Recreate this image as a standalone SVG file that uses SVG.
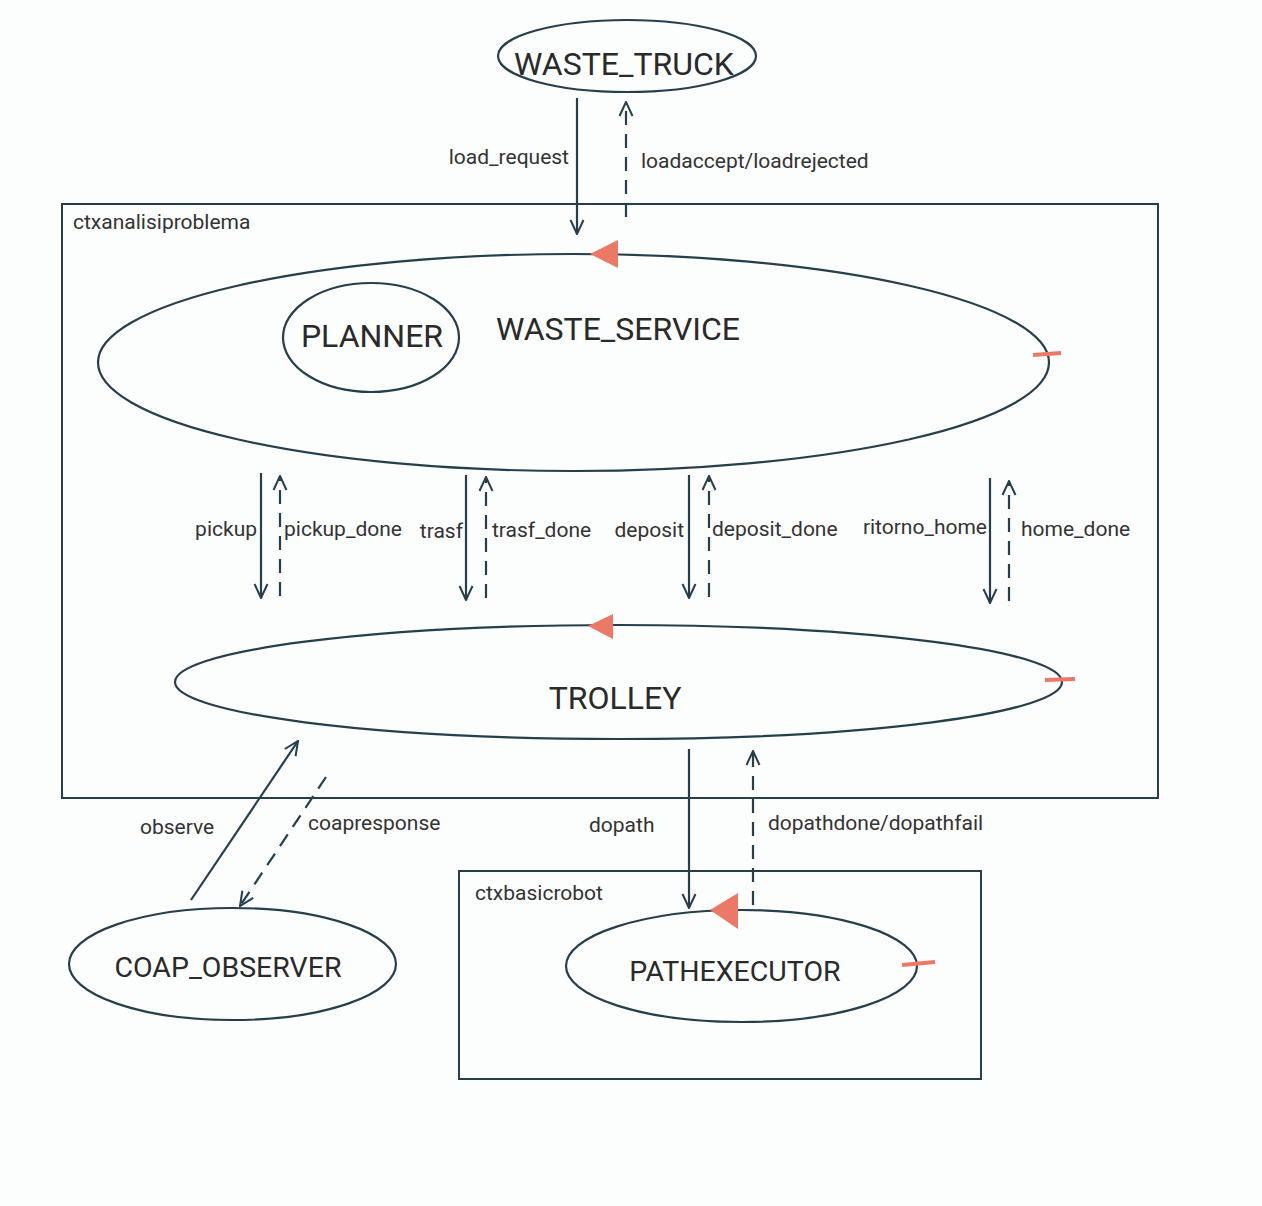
<svg xmlns="http://www.w3.org/2000/svg" width="1262" height="1206" viewBox="0 0 1262 1206">
<defs>
<marker id="open" viewBox="0 0 16 16" refX="15" refY="8" markerWidth="16" markerHeight="16" markerUnits="userSpaceOnUse" orient="auto">
<path d="M1,1.5 L15,8 L1,14.5" fill="none" stroke="#263f4c" stroke-width="2"/>
</marker>
</defs>
<style>
.n{fill:none;stroke:#263f4c;stroke-width:2.2}
.box{fill:none;stroke:#263f4c;stroke-width:2}
.big{font-family:Roboto,"Liberation Sans",sans-serif;font-size:32px;fill:#2a2a2a;text-anchor:middle}
.mid{font-family:Roboto,"Liberation Sans",sans-serif;font-size:28.5px;fill:#2a2a2a;text-anchor:middle}
.lbl{font-family:Roboto,"Liberation Sans",sans-serif;font-size:21px;fill:#333}
.r{text-anchor:end}
.c{fill:none;stroke:#263f4c;stroke-width:2.2;marker-end:url(#open)}
.d{stroke-dasharray:14 9}
.red{fill:#ec7866}
.tick{stroke:#ec7866;stroke-width:4;fill:none}
</style>
<rect width="1262" height="1206" fill="#fcfdfd"/>
<g id="ctxanalisiproblema">
<rect class="box" x="62" y="204" width="1096" height="594"/>
<text class="lbl" x="73" y="229">ctxanalisiproblema</text>
</g>
<g id="ctxbasicrobot">
<rect class="box" x="459" y="871" width="522" height="208"/>
<text class="lbl" x="475" y="900">ctxbasicrobot</text>
</g>
<g id="waste_truck">
<ellipse class="n" cx="627" cy="56" rx="129" ry="36"/>
<text class="big" x="624" y="75">WASTE_TRUCK</text>
</g>
<g id="waste_service">
<ellipse class="n" cx="573.5" cy="362.5" rx="475.5" ry="108.5"/>
<path class="red" d="M590,254 L618,240 L618,268 Z"/>
<path class="tick" d="M1033,355 L1061,353"/>
<text class="big" x="618" y="340">WASTE_SERVICE</text>
</g>
<g id="planner">
<ellipse class="n" cx="371" cy="337.5" rx="88" ry="54.5"/>
<text class="big" x="372" y="347">PLANNER</text>
</g>
<g id="trolley">
<ellipse class="n" cx="618.5" cy="682" rx="443.5" ry="57"/>
<path class="red" d="M588,626 L613,614 L613,639 Z"/>
<path class="tick" d="M1045,680 L1075,679"/>
<text class="big" x="615" y="709">TROLLEY</text>
</g>
<g id="pathexecutor">
<ellipse class="n" cx="741.5" cy="966" rx="175.5" ry="56"/>
<path class="red" d="M710,910 L738,893 L738,929 Z"/>
<path class="tick" d="M902,965 L935,962"/>
<text class="mid" x="735" y="981">PATHEXECUTOR</text>
</g>
<g id="coap_observer">
<ellipse class="n" cx="232.5" cy="964" rx="163.5" ry="56"/>
<text class="mid" x="228" y="977">COAP_OBSERVER</text>
</g>
<g id="connectors">
<line class="c" x1="577" y1="98" x2="577" y2="234"/>
<line class="c d" x1="626" y1="217" x2="626" y2="102"/>
<text class="lbl r" x="569" y="164">load_request</text>
<text class="lbl" x="641" y="168">loadaccept/loadrejected</text>

<line class="c" x1="261" y1="473" x2="261" y2="598"/>
<line class="c d" x1="280" y1="596" x2="280" y2="476"/>
<text class="lbl r" x="257" y="536">pickup</text>
<text class="lbl" x="284" y="536">pickup_done</text>

<line class="c" x1="466" y1="475" x2="466" y2="600"/>
<line class="c d" x1="486" y1="598" x2="486" y2="477"/>
<text class="lbl r" x="463" y="538">trasf</text>
<text class="lbl" x="492" y="537">trasf_done</text>

<line class="c" x1="689" y1="475" x2="689" y2="598"/>
<line class="c d" x1="709" y1="597" x2="709" y2="476"/>
<text class="lbl r" x="684" y="537">deposit</text>
<text class="lbl" x="712" y="536">deposit_done</text>

<line class="c" x1="990" y1="478" x2="990" y2="603"/>
<line class="c d" x1="1009" y1="601" x2="1009" y2="481"/>
<text class="lbl r" x="987" y="534">ritorno_home</text>
<text class="lbl" x="1021" y="536">home_done</text>

<line class="c" x1="191" y1="900" x2="298" y2="741"/>
<line class="c d" x1="326" y1="777" x2="240" y2="906"/>
<text class="lbl" x="140" y="834">observe</text>
<text class="lbl" x="308" y="830">coapresponse</text>

<line class="c" x1="689" y1="749" x2="689" y2="908"/>
<line class="c d" x1="753" y1="905" x2="753" y2="751"/>
<text class="lbl" x="589" y="832">dopath</text>
<text class="lbl" x="768" y="830">dopathdone/dopathfail</text>
</g>
</svg>
